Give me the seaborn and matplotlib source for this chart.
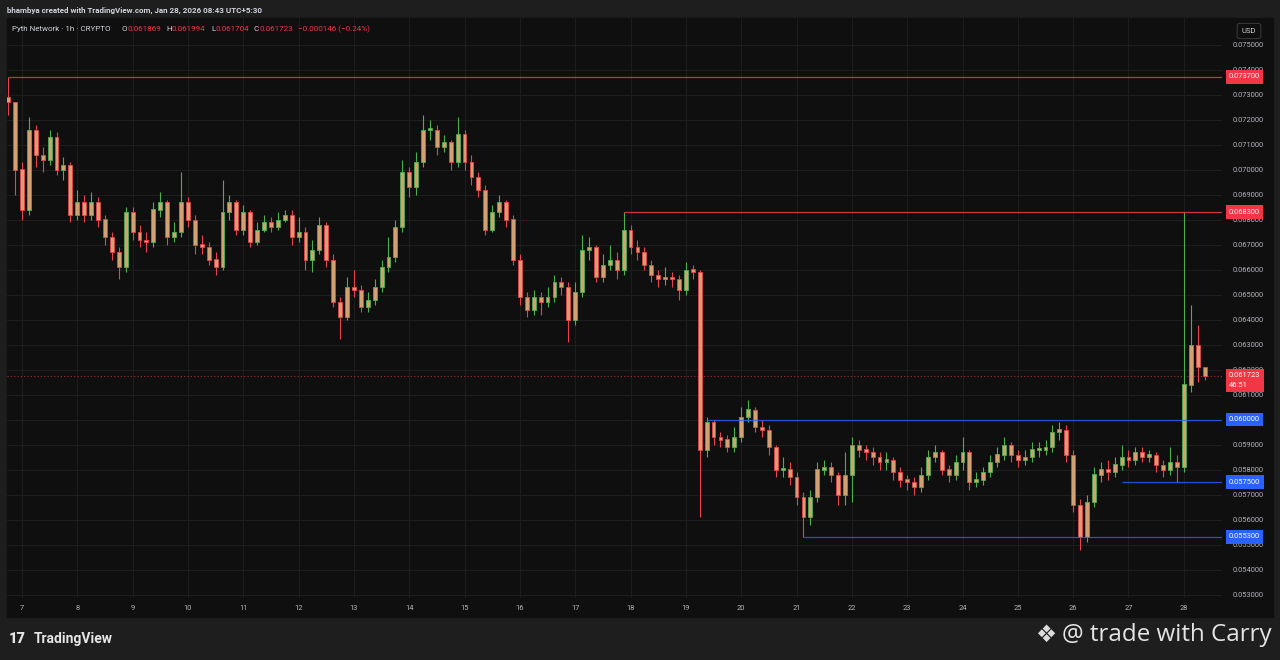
import numpy as np
import pandas as pd
import matplotlib
matplotlib.use("Agg")
import matplotlib.pyplot as plt
from matplotlib.patches import Rectangle
import seaborn as sns

# 3h candles, first one Jan 6 18:00
first_open = 0.0729
close_jan06 = [0.0727, 0.0700]
high_jan06 = [0.0737, 0.0727]
low_jan06 = [0.0722, 0.0690]

close_jan07 = [0.0684, 0.0716, 0.0706, 0.0704, 0.0713, 0.0700, 0.0702, 0.0682]
high_jan07 = [0.0703, 0.0721, 0.0718, 0.0709, 0.0716, 0.0715, 0.0705, 0.0703]
low_jan07 = [0.0680, 0.0682, 0.0701, 0.0699, 0.0702, 0.0698, 0.0696, 0.0679]

close_jan08 = [0.0687, 0.0682, 0.0687, 0.0680, 0.0673, 0.0667, 0.0661, 0.0683]
high_jan08 = [0.0692, 0.0690, 0.0691, 0.0689, 0.0682, 0.0675, 0.0669, 0.0685]
low_jan08 = [0.0680, 0.0679, 0.0680, 0.0677, 0.0670, 0.0664, 0.0656, 0.0659]

close_jan09 = [0.0675, 0.0672, 0.0671, 0.0684, 0.0687, 0.0673, 0.0675, 0.0687]
high_jan09 = [0.0685, 0.0678, 0.0675, 0.0687, 0.0691, 0.0688, 0.0679, 0.0699]
low_jan09 = [0.0672, 0.0669, 0.0667, 0.0669, 0.0681, 0.0670, 0.0671, 0.0673]

close_jan10 = [0.0680, 0.0670, 0.0669, 0.0664, 0.0661, 0.0683, 0.0687, 0.0676]
high_jan10 = [0.0689, 0.0682, 0.0674, 0.0671, 0.0667, 0.0696, 0.0690, 0.0688]
low_jan10 = [0.0677, 0.0666, 0.0666, 0.0662, 0.0658, 0.0660, 0.0680, 0.0674]

close_jan11 = [0.0683, 0.0671, 0.0676, 0.0679, 0.0677, 0.0680, 0.0682, 0.0673]
high_jan11 = [0.0686, 0.0684, 0.0679, 0.0682, 0.0681, 0.0683, 0.0684, 0.0684]
low_jan11 = [0.0674, 0.0669, 0.0670, 0.0675, 0.0675, 0.0676, 0.0679, 0.0670]

close_jan12 = [0.0675, 0.0664, 0.0668, 0.0678, 0.0664, 0.0647, 0.0641, 0.0653]
high_jan12 = [0.0681, 0.0677, 0.0672, 0.0681, 0.0679, 0.0666, 0.0649, 0.0657]
low_jan12 = [0.0671, 0.0660, 0.0659, 0.0666, 0.0661, 0.0645, 0.0632, 0.0640]

close_jan13 = [0.0652, 0.0645, 0.0648, 0.0653, 0.0661, 0.0665, 0.0677, 0.0699]
high_jan13 = [0.0660, 0.0654, 0.0651, 0.0656, 0.0664, 0.0673, 0.0680, 0.0704]
low_jan13 = [0.0649, 0.0643, 0.0643, 0.0646, 0.0651, 0.0659, 0.0663, 0.0675]

close_jan14 = [0.0693, 0.0703, 0.0716, 0.0716, 0.0709, 0.0711, 0.0703, 0.0714]
high_jan14 = [0.0701, 0.0707, 0.0722, 0.0720, 0.0718, 0.0714, 0.0712, 0.0721]
low_jan14 = [0.0689, 0.0690, 0.0701, 0.0712, 0.0706, 0.0707, 0.0700, 0.0701]

close_jan15 = [0.0703, 0.0697, 0.0692, 0.0676, 0.0683, 0.0687, 0.0680, 0.0664]
high_jan15 = [0.0716, 0.0706, 0.0699, 0.0694, 0.0686, 0.0690, 0.0688, 0.0682]
low_jan15 = [0.0700, 0.0694, 0.0689, 0.0674, 0.0675, 0.0681, 0.0677, 0.0662]

close_jan16 = [0.0649, 0.0644, 0.0649, 0.0647, 0.0649, 0.0655, 0.0653, 0.0640]
high_jan16 = [0.0666, 0.0651, 0.0652, 0.0651, 0.0653, 0.0658, 0.0657, 0.0655]
low_jan16 = [0.0646, 0.0641, 0.0642, 0.0642, 0.0645, 0.0647, 0.0650, 0.0631]

close_jan17 = [0.0651, 0.0668, 0.0669, 0.0657, 0.0662, 0.0664, 0.0660, 0.0676]
high_jan17 = [0.0655, 0.0674, 0.0673, 0.0670, 0.0666, 0.0670, 0.0667, 0.0683]
low_jan17 = [0.0638, 0.0649, 0.0664, 0.0655, 0.0655, 0.0660, 0.0656, 0.0658]

close_jan18 = [0.0669, 0.0667, 0.0662, 0.0658, 0.0656, 0.0657, 0.0656, 0.0652]
high_jan18 = [0.0678, 0.0672, 0.0669, 0.0664, 0.0660, 0.0661, 0.0659, 0.0658]
low_jan18 = [0.0666, 0.0664, 0.0660, 0.0655, 0.0653, 0.0654, 0.0653, 0.0648]

close_jan19 = [0.0660, 0.0659, 0.0588, 0.0599, 0.0593, 0.0592, 0.0589, 0.0593]
high_jan19 = [0.0663, 0.0662, 0.0660, 0.0601, 0.0600, 0.0595, 0.0594, 0.0597]
low_jan19 = [0.0650, 0.0656, 0.0561, 0.0585, 0.0590, 0.0589, 0.0587, 0.0587]

close_jan20 = [0.0601, 0.0604, 0.0597, 0.0596, 0.0589, 0.0580, 0.0580, 0.0577]
high_jan20 = [0.0605, 0.0608, 0.0605, 0.0600, 0.0598, 0.0590, 0.0585, 0.0583]
low_jan20 = [0.0591, 0.0599, 0.0595, 0.0593, 0.0586, 0.0577, 0.0577, 0.0574]

close_jan21 = [0.0569, 0.0561, 0.0569, 0.0580, 0.0581, 0.0578, 0.0570, 0.0578]
high_jan21 = [0.0579, 0.0571, 0.0572, 0.0583, 0.0584, 0.0583, 0.0579, 0.0587]
low_jan21 = [0.0566, 0.0553, 0.0558, 0.0567, 0.0578, 0.0575, 0.0566, 0.0566]

close_jan22 = [0.0590, 0.0588, 0.0587, 0.0585, 0.0583, 0.0584, 0.0579, 0.0576]
high_jan22 = [0.0593, 0.0592, 0.0590, 0.0589, 0.0587, 0.0587, 0.0585, 0.0581]
low_jan22 = [0.0567, 0.0585, 0.0584, 0.0582, 0.0580, 0.0580, 0.0576, 0.0573]

close_jan23 = [0.0575, 0.0573, 0.0578, 0.0585, 0.0587, 0.0580, 0.0578, 0.0583]
high_jan23 = [0.0578, 0.0577, 0.0581, 0.0588, 0.0590, 0.0588, 0.0582, 0.0586]
low_jan23 = [0.0572, 0.0570, 0.0571, 0.0576, 0.0583, 0.0578, 0.0575, 0.0576]

close_jan24 = [0.0587, 0.0575, 0.0576, 0.0579, 0.0583, 0.0586, 0.0590, 0.0586]
high_jan24 = [0.0593, 0.0588, 0.0579, 0.0581, 0.0586, 0.0589, 0.0593, 0.0591]
low_jan24 = [0.0580, 0.0572, 0.0573, 0.0574, 0.0577, 0.0581, 0.0584, 0.0583]

close_jan25 = [0.0584, 0.0585, 0.0588, 0.0588, 0.0589, 0.0595, 0.0596, 0.0586]
high_jan25 = [0.0588, 0.0588, 0.0591, 0.0591, 0.0592, 0.0598, 0.0599, 0.0598]
low_jan25 = [0.0581, 0.0582, 0.0583, 0.0585, 0.0586, 0.0587, 0.0592, 0.0583]

close_jan26 = [0.0566, 0.0553, 0.0567, 0.0578, 0.0580, 0.0579, 0.0582, 0.0585]
high_jan26 = [0.0588, 0.0568, 0.0570, 0.0581, 0.0583, 0.0584, 0.0585, 0.0590]
low_jan26 = [0.0563, 0.0548, 0.0551, 0.0565, 0.0575, 0.0576, 0.0577, 0.0580]

close_jan27 = [0.0584, 0.0587, 0.0585, 0.0586, 0.0582, 0.0580, 0.0583, 0.0581]
high_jan27 = [0.0588, 0.0589, 0.0589, 0.0588, 0.0587, 0.0584, 0.0589, 0.0586]
low_jan27 = [0.0581, 0.0582, 0.0583, 0.0583, 0.0579, 0.0577, 0.0578, 0.0575]

close_jan28 = [0.0614, 0.0630, 0.0621, 0.061723]
high_jan28 = [0.0683, 0.0646, 0.0638, 0.0621]
low_jan28 = [0.0579, 0.0611, 0.0615, 0.0616]

# horizontal levels drawn on the chart, with the candle they start from
red_levels = [0.0737, 0.0683]
red_level_start = [0, 89]
blue_levels = [0.0600, 0.0575, 0.0553]
blue_level_start = [101, 161, 115]
last_price = 0.061723
countdown = "46:51"

day_ticks = list(range(7, 29))
price_ticks = [round(0.053 + 0.001 * k, 3) for k in range(23)]

header = "bhambya created with TradingView.com, Jan 28, 2026 08:43 UTC+5:30"
symbol = "Pyth Network · 1h · CRYPTO"
ohlc_names = ["O", "H", "L", "C"]
ohlc_values = ["0.061869", "0.061994", "0.061704", "0.061723"]
change_text = "\u22120.000146 (\u22120.24%)"

# ---------------------------------------------------------------
closes = sum([close_jan06, close_jan07, close_jan08, close_jan09, close_jan10,
              close_jan11, close_jan12, close_jan13, close_jan14, close_jan15,
              close_jan16, close_jan17, close_jan18, close_jan19, close_jan20,
              close_jan21, close_jan22, close_jan23, close_jan24, close_jan25,
              close_jan26, close_jan27, close_jan28], [])
highs = sum([high_jan06, high_jan07, high_jan08, high_jan09, high_jan10,
             high_jan11, high_jan12, high_jan13, high_jan14, high_jan15,
             high_jan16, high_jan17, high_jan18, high_jan19, high_jan20,
             high_jan21, high_jan22, high_jan23, high_jan24, high_jan25,
             high_jan26, high_jan27, high_jan28], [])
lows = sum([low_jan06, low_jan07, low_jan08, low_jan09, low_jan10,
            low_jan11, low_jan12, low_jan13, low_jan14, low_jan15,
            low_jan16, low_jan17, low_jan18, low_jan19, low_jan20,
            low_jan21, low_jan22, low_jan23, low_jan24, low_jan25,
            low_jan26, low_jan27, low_jan28], [])

times = pd.date_range("2026-01-06 18:00", periods=len(closes), freq="3h")
df = pd.DataFrame({"time": times, "close": closes, "high": highs, "low": lows})
df["open"] = df["close"].shift(1).fillna(first_open)
# x = days since Jan 7 00:00, so day N sits at N - 7
df["x"] = (df["time"] - pd.Timestamp("2026-01-07")) / pd.Timedelta(days=1)
df["up"] = df["close"] >= df["open"]

BG = "#0f0f0f"
FRAME = "#1e1e1e"
GRID = "#1d1d1d"
TXT = "#b2b5be"
UP = "#4caf50"
DOWN = "#e8434c"
BODY = "#d3a071"
RED = "#f23645"
BLUE = "#2962ff"

sns.set_theme(style="dark", rc={"axes.facecolor": BG, "figure.facecolor": FRAME})
plt.rcParams["font.family"] = ["Roboto", "DejaVu Sans"]

W, H = 1280, 660
fig = plt.figure(figsize=(W / 100, H / 100), dpi=100)
# dark chart panel behind the axes (includes the price and date strips)
fig.add_artist(Rectangle((7 / W, 1 - 617 / H), 1266 / W, 599 / H,
                         transform=fig.transFigure, color=BG, zorder=-10))
ax = fig.add_axes([7 / W, 1 - 598 / H, 1215 / W, 580 / H])
ax.set_facecolor(BG)
ax.set_zorder(1)
sns.despine(ax=ax, left=True, bottom=True, right=True, top=True)

ax.set_xlim(-0.27, 21.69)
ax.set_ylim(0.05286, 0.07606)

# grid; price labels hidden under a level tag stay blank
tagged = set(round(v, 6) for v in red_levels + blue_levels)
ax.set_xticks([d - 7 for d in day_ticks])
ax.set_xticklabels([str(d) for d in day_ticks])
ax.set_yticks(price_ticks)
ax.set_yticklabels(["" if round(p, 6) in tagged else f"{p:.6f}" for p in price_ticks])
ax.yaxis.tick_right()
ax.grid(True, color=GRID, lw=0.8)
ax.tick_params(axis="both", length=0, colors=TXT, labelsize=5.4)
ax.tick_params(axis="x", pad=5)
ax.tick_params(axis="y", pad=8)

# candles
colors = np.where(df["up"], UP, DOWN)
ax.vlines(df["x"], df["low"], df["high"], colors=colors, lw=0.8, zorder=3)
body_h = (df["close"] - df["open"]).abs().clip(lower=0.00005)
ax.bar(df["x"], body_h, bottom=np.minimum(df["open"], df["close"]), width=0.07,
       color=BODY, edgecolor=colors, linewidth=0.6, zorder=4)

ytr = ax.get_yaxis_transform()
xmax = ax.get_xlim()[1]


def level_tag(price, color, text):
    ax.annotate(text, xy=(1, price), xycoords=ytr, xytext=(5, 0),
                textcoords="offset points", ha="left", va="center",
                fontsize=5.4, color="white", zorder=10, annotation_clip=False,
                bbox=dict(boxstyle="square,pad=0.45", fc=color, ec="none"))


for lvl, start in zip(red_levels, red_level_start):
    ax.hlines(lvl, df["x"].iloc[start], xmax, color=RED, lw=0.9, alpha=0.85, zorder=5)
    level_tag(lvl, RED, f"{lvl:.6f}")
for lvl, start in zip(blue_levels, blue_level_start):
    ax.hlines(lvl, df["x"].iloc[start], xmax, color=BLUE, lw=0.9, alpha=0.8, zorder=5)
    level_tag(lvl, BLUE, f"{lvl:.6f}")

# last price line + tag with countdown
ax.axhline(last_price, color=RED, lw=0.8, ls=(0, (1, 2)), alpha=0.7, zorder=2)
ax.annotate(f"{last_price:.6f}\n{countdown}", xy=(1, last_price), xycoords=ytr,
            xytext=(5, -3), textcoords="offset points", ha="left", va="center",
            fontsize=5.4, color="white", linespacing=1.5, zorder=10,
            annotation_clip=False,
            bbox=dict(boxstyle="square,pad=0.45", fc=RED, ec="none"))

# currency box
fig.text(1249 / W, 1 - 31 / H, "USD", ha="center", va="center", fontsize=5.5,
         color="#d1d4dc", zorder=20,
         bbox=dict(boxstyle="round,pad=0.6,rounding_size=0.3", fc=BG, ec="#363636", lw=0.8))

# header and symbol legend
fig.text(7 / W, 1 - 10 / H, header, ha="left", va="center", fontsize=5.8,
         color="#d1d4dc", fontweight="bold")
fig.text(12 / W, 1 - 29 / H, symbol, ha="left", va="center", fontsize=5.8,
         color="#d1d4dc", zorder=20)
name_px = [122, 166, 211, 254]
for px, nm, val in zip(name_px, ohlc_names, ohlc_values):
    fig.text(px / W, 1 - 29 / H, nm, ha="left", va="center", fontsize=5.8,
             color="#d1d4dc", zorder=20)
    fig.text((px + 5) / W, 1 - 29 / H, val, ha="left", va="center", fontsize=5.8,
             color=RED, zorder=20)
fig.text(298 / W, 1 - 29 / H, change_text, ha="left", va="center", fontsize=5.8,
         color=RED, zorder=20)

# footer
fig.text(9 / W, 1 - 639 / H, "17", ha="left", va="center", fontsize=10.5,
         color="#e6e6e6", fontweight="heavy")
fig.text(34 / W, 1 - 639 / H, "TradingView", ha="left", va="center", fontsize=10,
         color="#e6e6e6", fontweight="bold")
fig.text(1046 / W, 1 - 635 / H, "\u2756", ha="center", va="center", fontsize=17,
         color="#dcdcdc", family=["DejaVu Sans"])
fig.text(1272 / W, 1 - 635 / H, "@ trade with Carry", ha="right", va="center",
         fontsize=17.4, color="#e4e4e4", family=["Open Sans", "DejaVu Sans"])

fig.savefig("out.png", dpi=100, facecolor=FRAME)
